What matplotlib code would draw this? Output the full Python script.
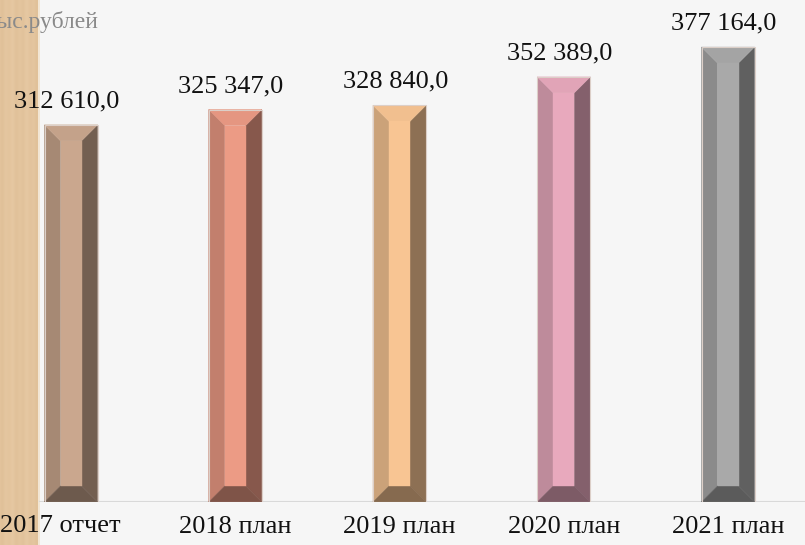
import numpy as np
import matplotlib
matplotlib.use("Agg")
import matplotlib.pyplot as plt
from matplotlib.patches import Polygon
from matplotlib.colors import to_rgb

# ---------- data ----------
categories = ["2017 отчет", "2018 план", "2019 план", "2020 план", "2021 план"]
values = [312610.0, 325347.0, 328840.0, 352389.0, 377164.0]
value_labels = ["312 610,0", "325 347,0", "328 840,0", "352 389,0", "377 164,0"]
unit_label = "тыс.рублей"
bar_colors = ["#caa78e", "#ec9b85", "#f8c593", "#e8a9bd", "#a9a9a9"]

plt.rcParams["font.family"] = ["Liberation Serif", "DejaVu Serif"]

W, H = 805, 545
fig = plt.figure(figsize=(W / 100, H / 100), dpi=100)
fig.patch.set_facecolor("#f6f6f6")

# parchment strip on the left
strip = fig.add_axes([0, 0, 40 / W, 1], zorder=0)
cols = np.arange(40)
shade = 0.5 + 0.25 * np.sin(cols * 0.9) + 0.25 * np.sin(cols * 0.37 + 1.0)
base = np.array(to_rgb("#e6c8a2"))
dark = np.array(to_rgb("#d8b68c"))
img = base[None, :] * (1 - shade[:, None] * 0.4) + dark[None, :] * (shade[:, None] * 0.4)
img[-2:] = to_rgb("#f2e6d4")
strip.imshow(img[None, :, :], aspect="auto", extent=[0, 1, 0, 1])
strip.axis("off")

# main axes: baseline at pixel row 502 from top
ax = fig.add_axes([0, (H - 502) / H, 1, 502 / H], zorder=1)
ax.patch.set_alpha(0)
x = np.arange(len(categories))
px_per_unit = 164.25
left_px = 71
ax.set_xlim(-left_px / px_per_unit, (W - left_px) / px_per_unit)
ax.set_ylim(0, 502 * 829)
ax.axis("off")

bw = 53 / px_per_unit
bev_x = 16 / px_per_unit
bev_y = 16 * 829


def scale(c, f):
    r = np.array(to_rgb(c)) * f
    return tuple(np.clip(r, 0, 1))


for xi, v, c in zip(x, values, bar_colors):
    x0, x1 = xi - bw / 2, xi + bw / 2
    ix0, ix1 = x0 + bev_x, x1 - bev_x
    y0, y1 = 0, v
    iy0, iy1 = bev_y, v - bev_y
    faces = [
        ([(x0, y0), (x0, y1), (ix0, iy1), (ix0, iy0)], scale(c, 0.82)),   # left
        ([(x1, y0), (x1, y1), (ix1, iy1), (ix1, iy0)], scale(c, 0.57)),   # right
        ([(x0, y1), (x1, y1), (ix1, iy1), (ix0, iy1)], scale(c, 0.97)),   # top
        ([(x0, y0), (x1, y0), (ix1, iy0), (ix0, iy0)], scale(c, 0.54)),   # bottom
        ([(ix0, iy0), (ix0, iy1), (ix1, iy1), (ix1, iy0)], to_rgb(c)),    # face
    ]
    for pts, fc in faces:
        ax.add_patch(Polygon(pts, closed=True, facecolor=fc, edgecolor=fc,
                             linewidth=0.3, zorder=3))
    ax.add_patch(Polygon([(x0, y0), (x0, y1), (x1, y1), (x1, y0)], closed=True,
                         fill=False, edgecolor="#dccfc8", linewidth=0.8, zorder=4))

for xi, v, lab in zip(x, values, value_labels):
    ax.annotate(lab, (xi, v), xytext=(-3, 9), textcoords="offset points",
                ha="center", va="bottom", fontsize=19, color="#111111", zorder=5)

# baseline
ax.axhline(0, xmin=40 / W, color="#d9d9d9", linewidth=1.5, zorder=2)

# category labels
for i, (xi, cat) in enumerate(zip(x, categories)):
    if i == 0:
        fig.text(0.0, 1 - 526 / H, cat, ha="left", va="center", fontsize=19, color="#111111")
    else:
        ax.annotate(cat, (xi, 0), xytext=(0, -18), textcoords="offset points",
                    ha="center", va="center", fontsize=19, color="#111111",
                    annotation_clip=False)

fig.text(-0.016, 1 - 22 / H, unit_label, ha="left", va="center", fontsize=17, color="#8a8a8a")

fig.savefig("out.png", dpi=100)
